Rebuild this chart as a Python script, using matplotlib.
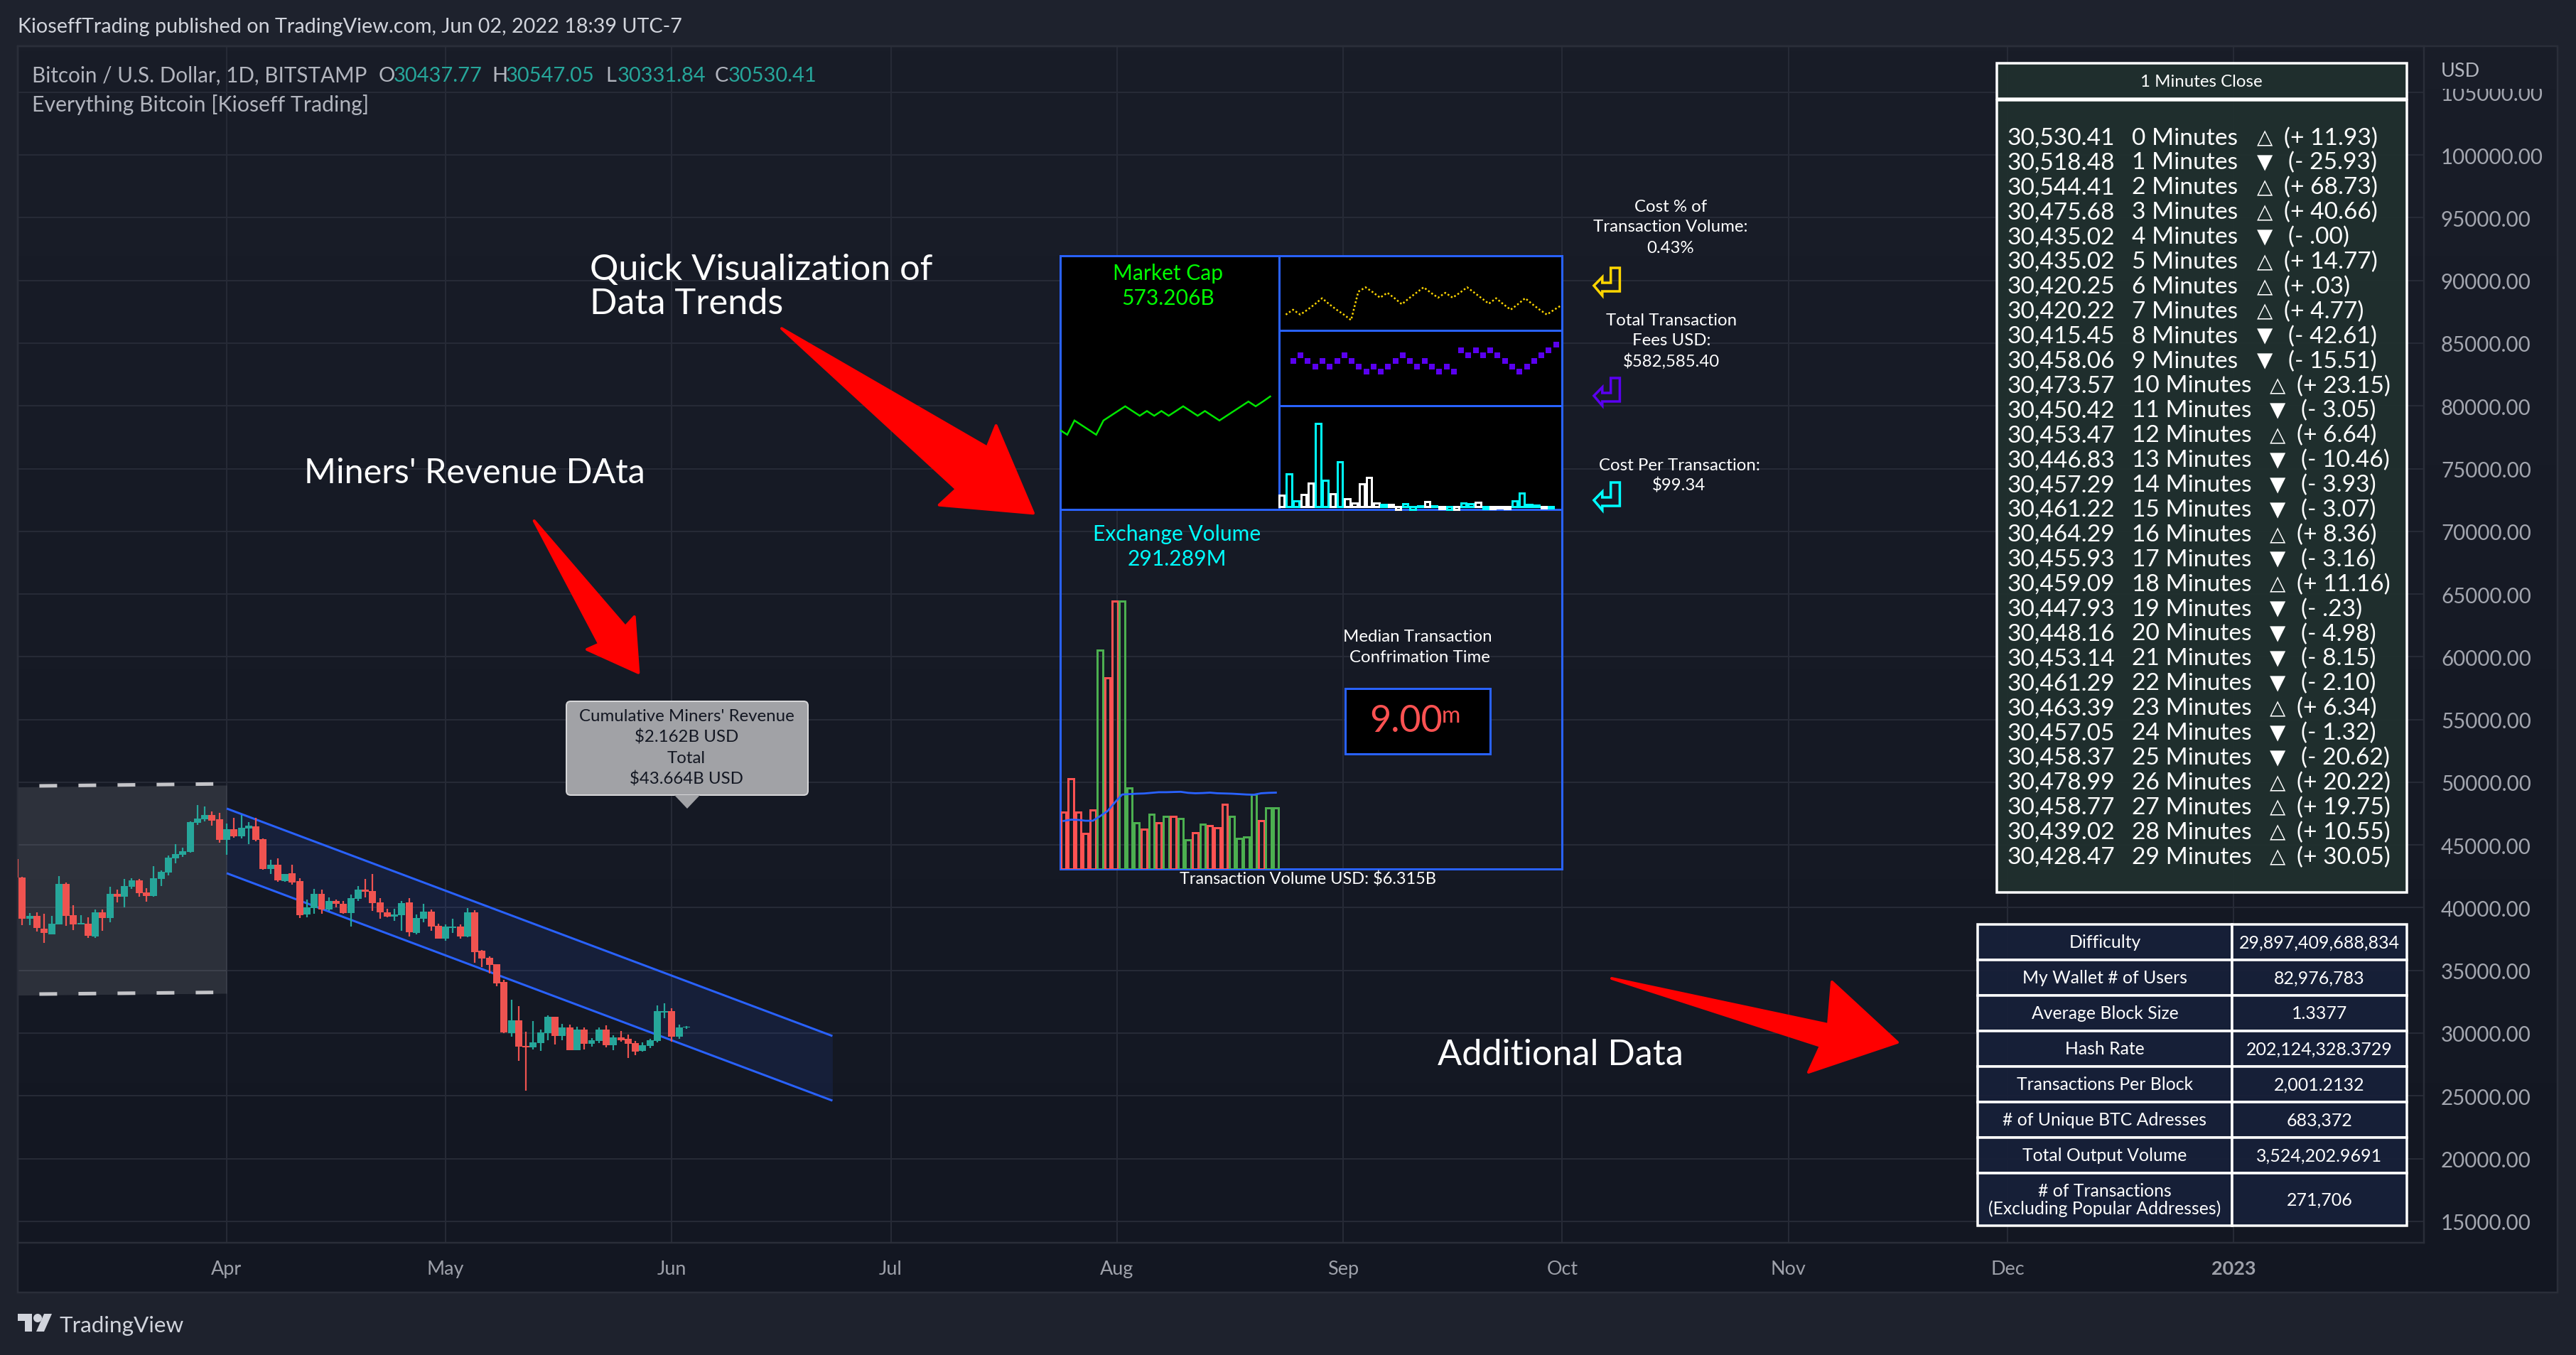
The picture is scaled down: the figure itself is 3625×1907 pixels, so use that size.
import numpy as np
import pandas as pd
import matplotlib
matplotlib.use("Agg")
import matplotlib.pyplot as plt
import matplotlib.dates as mdates
from matplotlib.colors import to_rgba
from matplotlib.patches import Polygon, Rectangle, Circle, FancyBboxPatch

plt.rcParams['font.family'] = ['Lato', 'DejaVu Sans']
plt.rcParams['lines.scale_dashes'] = False

# ---------- daily BTC/USD candles, 3 Mar - 3 Jun 2022 ----------
candle_open = [43890,
    42420,39110,39370,38350,37900,38690,41910,39430,38650,38750,37690,39650,39200,41120,40900,41690,42190,41230,40950,42310,
    42820,43950,44230,44450,46770,47050,47390,47050,45410,46260,45700,46320,46490,45470,43100,43440,42140,42760,42140,39480,
    39990,41120,39880,40560,40330,39600,40720,41460,41350,40440,39650,39310,39430,40440,38010,39140,39710,38580,37560,38410,
    38470,37680,39650,36550,35980,35480,34070,30000,31020,28980,28870,29210,30000,31300,29770,30450,28640,30280,29150,29380,
    30280,29040,29660,29550,29210,28590,28980,29380,31640,31750,29720,30437.77]
candle_high = [44100,
    42480,39600,39650,39540,39370,42530,42020,40220,39430,39260,39880,39880,41690,41460,42310,42360,42310,41570,43320,42990,
    44170,45080,44790,46880,48180,48070,47670,47560,46710,47170,47390,46830,47170,45530,43830,43950,42700,43440,42360,40670,
    41520,41460,40840,40670,40560,41060,41740,42310,42700,40780,39940,39940,40560,40780,39480,40330,39880,38750,38640,39140,
    38640,39990,39820,36600,36090,35520,34240,32660,32150,30110,30960,30280,31410,31300,30730,30680,30510,30450,29610,30450,
    30620,29830,30170,29890,29380,29270,29550,32200,32370,31980,30680,30547.05]
candle_low = [41800,
    38600,38600,38090,37190,37850,38640,38540,38240,38650,37580,37580,38150,38860,40440,40050,41520,40900,40500,40900,41740,
    42590,43550,44060,44400,46600,46880,46540,45190,44230,45580,45530,45080,45300,43040,42700,42080,42080,41860,39200,39260,
    39540,39540,39770,40050,39540,38520,40560,40840,39770,39140,39260,38970,38180,37680,37850,38860,38130,37560,37390,38010,
    37510,37620,35580,35250,34740,33730,30000,29720,27800,25430,28700,28590,29440,29100,29440,28640,28640,28700,28930,29210,
    28870,28640,29320,28020,28250,28530,28810,29270,31190,29320,29550,30331.84]
candle_close = [42420,
    39110,39370,38370,37980,38750,41910,39370,38650,38800,37750,39650,39200,41120,40900,41740,42190,41180,40950,42360,42870,
    44000,44280,44510,46830,47110,47390,46940,45410,46260,45700,46370,46540,45410,43100,43440,42190,42700,42020,39430,40050,
    41120,39880,40560,40330,39600,40780,41460,41290,40390,39650,39310,39480,40390,38070,39200,39710,38520,37560,38470,38520,
    37680,39650,36430,35920,35420,33950,30060,31020,28930,28870,29270,30060,31300,29770,30450,28640,30280,29150,29440,30280,
    29040,29660,29440,29150,28530,29040,29440,31750,31750,29720,30450,30530.41]
first_candle = '2022-03-03'

# ---------- drawings anchored to date and price ----------
channel_dates = ['2022-04-01', '2022-06-23']
channel_upper = [47904, 29773]
channel_lower = [42748, 24618]
range_dates = ['2022-03-02', '2022-04-01']
range_top = [49620, 49768]
range_bottom = [33020, 33172]
dash_dates = ['2022-03-06 08:00', '2022-03-30 04:00']
dash_top = [49710, 49863]
dash_bottom = [33115, 33245]

# ---------- axes labels ----------
month_dates = ['2022-04-01', '2022-05-01', '2022-06-01', '2022-07-01', '2022-08-01', '2022-09-01',
               '2022-10-01', '2022-11-01', '2022-12-01', '2023-01-01']
month_labels = ['Apr', 'May', 'Jun', 'Jul', 'Aug', 'Sep', 'Oct', 'Nov', 'Dec', '2023']
price_ticks = list(range(15000, 110000, 5000))

# ---------- dashboard series ----------
market_cap_b = [552, 549, 558, 555, 552, 549, 558, 561, 564, 567, 564, 561, 564, 561, 564, 561, 564, 567, 564, 561,
                564, 561, 558, 561, 564, 567, 570, 567, 570, 573.206]
cost_pct = [0.413, 0.422, 0.413, 0.422, 0.432, 0.443, 0.432, 0.422, 0.413, 0.403, 0.455, 0.463, 0.454, 0.444, 0.453,
            0.443, 0.432, 0.443, 0.453, 0.463, 0.453, 0.444, 0.453, 0.444, 0.453, 0.463, 0.453, 0.443, 0.433, 0.443,
            0.432, 0.422, 0.432, 0.443, 0.432, 0.422, 0.413, 0.422, 0.43]
fees_k = [570.6, 574.6, 570.6, 566.6, 570.6, 566.6, 570.6, 574.6, 570.6, 566.6, 562.6, 566.6, 562.6, 566.6, 570.6,
          574.6, 570.6, 566.6, 570.6, 566.6, 562.6, 566.6, 562.6, 578.6, 574.6, 578.6, 574.6, 578.6, 574.6, 570.6,
          566.6, 562.6, 566.6, 570.6, 574.6, 578.6, 582.585]
tx_cost = [16, 46, 8, 17, 33, 117, 37, 18, 63, 11, 5, 32, 41, 5, 3, 3, -4, 4, -4, 1, 7, 1, -3, -4, -4, 5, 4, 6, -3,
           -3, -2, -3, 8, 19, 3, 2, -2, -2]
tx_cost_kind = list('WCCWWCCWCWWWWWCWWCCCWCWCWCCWCWWWCCCCWC')
exch_volume_m = [272, 431, 272, 169, 281, 1043, 912, 1277, 1277, 387, 221, 190, 262, 221, 249, 252, 239, 139, 174, 214,
                 207, 197, 307, 249, 147, 153, 354, 232, 291.289, 291.289]
exch_up = list('RRRRRGRRGGGRGRGRGGRGRRRGGGGRGG')
exch_average_m = [229, 235, 234, 230, 230, 252, 276, 317, 355, 357, 359, 360, 363, 366, 366, 367, 368, 363, 361, 362,
                  364, 361, 360, 359, 357, 355, 354, 361, 363, 364]

# ---------- tables ----------
minute_close = ['30,530.41', '30,518.48', '30,544.41', '30,475.68', '30,435.02', '30,435.02', '30,420.25', '30,420.22',
                '30,415.45', '30,458.06', '30,473.57', '30,450.42', '30,453.47', '30,446.83', '30,457.29', '30,461.22',
                '30,464.29', '30,455.93', '30,459.09', '30,447.93', '30,448.16', '30,453.14', '30,461.29', '30,463.39',
                '30,457.05', '30,458.37', '30,478.99', '30,458.77', '30,439.02', '30,428.47']
minute_change = ['+ 11.93', '- 25.93', '+ 68.73', '+ 40.66', '- .00', '+ 14.77', '+ .03', '+ 4.77', '- 42.61', '- 15.51',
                 '+ 23.15', '- 3.05', '+ 6.64', '- 10.46', '- 3.93', '- 3.07', '+ 8.36', '- 3.16', '+ 11.16', '- .23',
                 '- 4.98', '- 8.15', '- 2.10', '+ 6.34', '- 1.32', '- 20.62', '+ 20.22', '+ 19.75', '+ 10.55', '+ 30.05']
stat_names = ['Difficulty', 'My Wallet # of Users', 'Average Block Size', 'Hash Rate', 'Transactions Per Block',
              '# of Unique BTC Adresses', 'Total Output Volume', '# of Transactions\n(Excluding Popular Addresses)']
stat_values = ['29,897,409,688,834', '82,976,783', '1.3377', '202,124,328.3729', '2,001.2132', '683,372',
               '3,524,202.9691', '271,706']

W, H = 3625, 1908
PX = 0.72  # points per pixel at 100 dpi
BLUE, TEAL, CORAL = '#2962ff', '#26a69a', '#ef5350'
fig = plt.figure(figsize=(W / 100, H / 100), dpi=100, facecolor='#1e222d')


def hex_rgb(c):
    return np.array(matplotlib.colors.to_rgb(c))


def pixel_axes(left, top, right, bottom, zorder):
    ax = fig.add_axes([left / W, 1 - bottom / H, (right - left) / W, (bottom - top) / H], zorder=zorder)
    ax.patch.set_alpha(0)
    return ax


# chart backdrop: faint top-to-bottom gradient behind pane and scales
back = pixel_axes(0, 0, W, H, 0)
back.set_xlim(0, W); back.set_ylim(H, 0); back.axis('off')
shade = np.linspace(hex_rgb('#191d28'), hex_rgb('#131722'), 256)[:, None, :]
back.imshow(shade, extent=[25, 3599, 1820, 66], aspect='auto', zorder=1)
back.set_xlim(0, W); back.set_ylim(H, 0)
back.add_patch(Rectangle((25, 66), 3574, 1754, fc='none', ec='#2a2e39', lw=2.5 * PX, zorder=2))

# price pane
pane = pixel_axes(25, 66, 3411, 1750, 1)
apr1 = mdates.date2num(pd.Timestamp('2022-04-01'))
px_per_day, px_per_usd = 10.27, 0.017655
pane.set_xlim(apr1 + (25 - 319) / px_per_day, apr1 + (3411 - 319) / px_per_day)
pane.set_ylim(30000 - (1750 - 1455) / px_per_usd, 30000 + (1455 - 66) / px_per_usd)
pane.set_xticks(mdates.date2num(pd.to_datetime(month_dates)))
pane.set_xticklabels(month_labels)
pane.set_yticks(price_ticks)
pane.set_yticklabels([f'{p:.2f}' for p in price_ticks])
pane.yaxis.tick_right()
pane.tick_params(axis='y', length=0, pad=24 * PX, labelsize=29.5 * PX, labelcolor='#a3a6af')
pane.tick_params(axis='x', length=0, pad=24 * PX, labelsize=27 * PX, labelcolor='#9ea1aa')
pane.get_xticklabels()[-1].set_fontweight('bold')
pane.grid(True, color='#262a36', lw=2 * PX, zorder=0)
pane.set_axisbelow(True)
for s in pane.spines.values():
    s.set_color('#2a2e39')
    s.set_linewidth(2.5 * PX)

days = mdates.date2num(pd.date_range(first_candle, periods=len(candle_open)))
o, h, l, c = map(np.array, (candle_open, candle_high, candle_low, candle_close))
candle_colors = np.where(c >= o, TEAL, CORAL)

pane.fill_between(mdates.date2num(pd.to_datetime(range_dates)), range_bottom, range_top,
                  color='white', alpha=0.105, lw=0, zorder=1)
cd = mdates.date2num(pd.to_datetime(channel_dates))
pane.fill_between(cd, channel_lower, channel_upper, color=BLUE, alpha=0.10, lw=0, zorder=1)
pane.plot(cd, channel_upper, color=BLUE, lw=3 * PX, zorder=2, solid_capstyle='butt')
pane.plot(cd, channel_lower, color=BLUE, lw=3 * PX, zorder=2, solid_capstyle='butt')
dd = mdates.date2num(pd.to_datetime(dash_dates))
for series in (dash_top, dash_bottom):
    pane.plot(dd, series, color='#c4c4c8', lw=5 * PX, ls=(0, (25 * PX, 30 * PX)), dash_capstyle='butt', zorder=2)
pane.vlines(days, l, h, colors=candle_colors, lw=2.2 * PX, zorder=3)
pane.bar(days, np.abs(c - o), bottom=np.minimum(o, c), width=0.97, color=candle_colors, lw=0, zorder=4)

# overlay in pixel space for dashboard frames, tables and annotation text
ui = pixel_axes(0, 0, W, H, 2)
ui.set_xlim(0, W); ui.set_ylim(H, 0); ui.axis('off')


def label(x, y, s, size, color='white', ha='center', **kw):
    return ui.text(x, y + 2, s, fontsize=size * PX, color=color, ha=ha, va='center', **kw)


def box(x0, y0, x1, y1, fc='none', ec=BLUE, lw=3, z=2):
    ui.add_patch(Rectangle((x0, y0), x1 - x0, y1 - y0, fc=fc, ec=ec, lw=lw * PX, zorder=z))


# header and footer
label(25, 36, 'KioseffTrading published on TradingView.com, Jun 02, 2022 18:39 UTC-7', 28.8, '#d1d4dc', ha='left')
label(45, 105, 'Bitcoin / U.S. Dollar, 1D, BITSTAMP', 29.6, '#b2b5be', ha='left')
for x, s, col in [(533, 'O', '#b2b5be'), (554, '30437.77', TEAL), (692, 'H', '#b2b5be'), (712, '30547.05', TEAL),
                  (852, 'L', '#b2b5be'), (869, '30331.84', TEAL), (1006, 'C', '#b2b5be'), (1025, '30530.41', TEAL)]:
    label(x, 105, s, 29, col, ha='left')
label(45, 146, 'Everything Bitcoin [Kioseff Trading]', 30.2, '#b2b5be', ha='left')
label(83, 1864, 'TradingView', 31.5, '#d1d4dc', ha='left')
logo = '#d1d4dc'
ui.add_patch(Polygon([(25, 1850), (45, 1850), (45, 1875), (35, 1875), (35, 1860), (25, 1860)], fc=logo, lw=0))
ui.add_patch(Circle((53, 1856), 6, fc=logo, lw=0))
ui.add_patch(Polygon([(62, 1850), (73, 1850), (62, 1875), (51, 1875)], fc=logo, lw=0))
# the topmost scale label slides under the currency header
ui.add_patch(Rectangle((3414, 68), 183, 58, fc='#191d28', lw=0, zorder=1))
label(3435, 99, 'USD', 27, '#b2b5be', ha='left', zorder=2)

# dashboard frames
box(1492, 361, 1800, 718, fc='black')
box(1800, 361, 2198, 466, fc='black')
box(1800, 466, 2198, 572, fc='black')
box(1800, 572, 2198, 718, fc='black')
box(1492, 718, 2198, 1224)
box(1893, 970, 2097, 1062, fc='black')

label(1644, 383, 'Market Cap', 30, '#00ff00')
label(1644, 418, '573.206B', 30, '#00ff00')
label(1656, 750, 'Exchange Volume', 30, '#00ffff')
label(1656, 785, '291.289M', 30, '#00ffff')
label(1995, 895, 'Median Transaction', 24)
label(1998, 924, 'Confrimation Time', 24)
label(1979, 1014, '9.00', 52, '#ff5252')
label(2029, 1006, 'm', 32, '#ff5252', ha='left')
label(1840, 1236, 'Transaction Volume USD: $6.315B', 23.5)
label(2351, 289, 'Cost % of', 24)
label(2351, 318, 'Transaction Volume:', 24)
label(2351, 347, '0.43%', 24)
label(2352, 449, 'Total Transaction', 24)
label(2352, 478, 'Fees USD:', 24)
label(2352, 507, '$582,585.40', 24)
label(2363, 654, 'Cost Per Transaction:', 24)
label(2363, 682, '$99.34', 24)

# hollow return-arrow markers next to the small panels
glyph = np.array([(2279.4, 378), (2266.7, 378), (2266.7, 399), (2254.8, 399), (2254.8, 391), (2242.9, 403),
                  (2254.8, 417), (2254.8, 411), (2279.4, 411)])
for dy, col in [(0, '#ffd600'), (155, '#5a00f0'), (302, '#00ffff')]:
    ui.add_patch(Polygon(glyph + [0, dy], fc='none', ec=col, lw=3.5 * PX, joinstyle='miter'))

# callouts
for pts in ([(751.7, 734), (880, 883), (892.7, 869), (898.3, 947.7), (826, 915), (843.3, 907.3)],
            [(1100, 463.3), (1389.3, 630.7), (1401.7, 600), (1454, 723.3), (1321.7, 711.7), (1346, 689.3)],
            [(2268, 1378), (2573, 1443), (2578, 1383), (2670, 1468), (2545, 1510), (2562, 1473)]):
    ui.add_patch(Polygon(pts, fc='#ff0000', ec='#ff0000', lw=4 * PX, joinstyle='round', zorder=3))
label(830, 378, 'Quick Visualization of', 50.5, ha='left')
label(830, 426, 'Data Trends', 50.5, ha='left')
label(428, 664, "Miners' Revenue DAta", 48.5, ha='left')
label(2023, 1483, 'Additional Data', 50.5, ha='left')

# revenue tooltip
ui.add_patch(FancyBboxPatch((800, 991), 334, 126, boxstyle='round,pad=3,rounding_size=6', fc='#a1a2a6', ec='#d6d6d8',
                            lw=2 * PX, zorder=4))
ui.add_patch(Polygon([(949, 1120), (967, 1139), (985, 1120)], fc='#a1a2a6', ec='none', zorder=4))
for y, s in zip((1007, 1036, 1066, 1095), ("Cumulative Miners' Revenue", '$2.162B USD', 'Total', '$43.664B USD')):
    label(966, y, s, 24, '#131722', zorder=5)

# one-minute close table
sheet = to_rgba('#20302e', 0.92)
box(2810, 90, 3387, 140, fc=sheet, ec='white', lw=3.5)
box(2810, 142, 3387, 1257, fc=sheet, ec='white', lw=3.5)
label(3098, 113, '1 Minutes Close', 24, zorder=4)
for i, (close, change) in enumerate(zip(minute_close, minute_change)):
    y = 192.5 + 34.9 * i
    wide = 18 if i >= 10 else 0
    up = change[0] == '+'
    label(2825, y, close, 33.5, ha='left', zorder=4)
    label(3000, y, f'{i} Minutes', 33.5, ha='left', zorder=4)
    label(3187 + wide, y, '△' if up else '▼', 29, zorder=4)
    label((3214 if up else 3220) + wide, y, f'({change})', 33.5, ha='left', zorder=4)

# network statistics table
edges = [1302, 1351.5, 1402, 1452, 1502, 1552, 1602, 1652, 1726]
cell = to_rgba('#172039', 0.93)
for i, (name, value) in enumerate(zip(stat_names, stat_values)):
    box(2783, edges[i], 3141, edges[i + 1], fc=cell, ec='white', lw=3.5)
    box(3141, edges[i], 3387, edges[i + 1], fc=cell, ec='white', lw=3.5)
    mid = (edges[i] + edges[i + 1]) / 2 - 2
    if '\n' in name:
        for dy, part in zip((-12.5, 12.5), name.split('\n')):
            label(2962, mid + dy, part, 24.8, zorder=4)
    else:
        label(2962, mid, name, 24.8, zorder=4)
    label(3264, mid, value, 25, zorder=4)


def panel(left, top, right, bottom, x0, dx, y0, v0, per_px):
    """Small plot whose bar index 0 sits at pixel x0 and whose value v0 sits at pixel y0."""
    ax = pixel_axes(left, top, right, bottom, 3)
    ax.set_xlim((left - x0) / dx, (right - x0) / dx)
    ax.set_ylim(v0 - (bottom - y0) * per_px, v0 + (y0 - top) * per_px)
    ax.axis('off')
    return ax


cap_ax = panel(1492, 363, 1799, 716, 1491.6, 10.2, 559, 573.206, 0.45)
cap_ax.plot(range(len(market_cap_b)), market_cap_b, color='#00e600', lw=2.5 * PX, solid_joinstyle='miter')

pct_ax = panel(1802, 363, 2197, 464, 1809.4, 10.207, 430.7, 0.43, 0.0013)
pct_ax.plot(range(len(cost_pct)), cost_pct, color='#ffd600', lw=2.5 * PX, ls=(0, (1.8, 2.2)), dash_capstyle='butt')

fee_ax = panel(1802, 468, 2197, 570, 1819.9, 10.27, 486, 582.585, 0.5217)
fee_ax.scatter(range(len(fees_k)), fees_k, marker='s', s=(8 * PX) ** 2, color='#5a00f0', lw=0)

cost_ax = panel(1798, 574, 2197, 716, 1803.7, 10.24, 714, 0, 1)
cost_ax.bar(range(len(tx_cost)), tx_cost, width=0.72, fc='none',
            ec=['#00ffff' if k == 'C' else 'white' for k in tx_cost_kind], lw=3 * PX, clip_on=False)

vol_ax = panel(1493, 730, 2197, 1224, 1496.7, 10.3, 1224, 0, 3.387)
vol_ax.bar(range(len(exch_volume_m)), exch_volume_m, width=0.72, fc='none',
           ec=['#4caf50' if k == 'G' else '#ff5252' for k in exch_up], lw=3 * PX)
vol_ax.plot(range(len(exch_average_m)), exch_average_m, color=BLUE, lw=2.8 * PX)

fig.savefig('out.png', dpi=100, facecolor=fig.get_facecolor())
